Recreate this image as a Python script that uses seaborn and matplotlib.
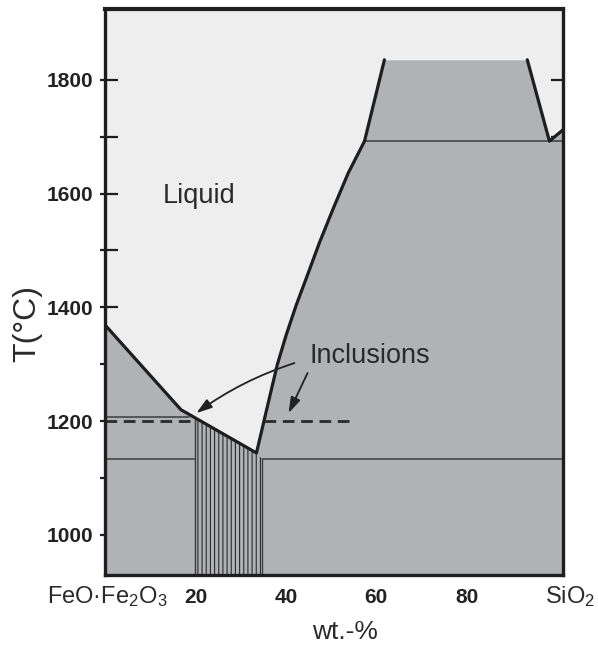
import numpy as np
import pandas as pd
import matplotlib
matplotlib.use("Agg")
import matplotlib.pyplot as plt
import seaborn as sns

# --- FeO·Fe2O3 – SiO2 phase diagram (wt.-% SiO2 vs temperature) ---

# Liquidus / upper boundary of the solid and two-liquid fields
liq_x = [0.0, 16.8, 33.5, 34.8, 36.4, 38.1, 40.1, 42.3, 44.8, 47.4, 50.5, 53.8,
         57.4, 61.8, 93.4, 98.3, 101.3]
liq_t = [1369, 1220, 1144, 1188, 1242, 1299, 1352, 1404, 1457, 1513, 1574, 1636,
         1692, 1835, 1835, 1692, 1712]

# Invariant (horizontal) lines: temperature, x-start, x-end
magnetite_t, magnetite_x = 1207, [0.0, 18.5]
eutectic_t = 1133
eutectic_left_x = [0.0, 19.9]
eutectic_right_x = [34.8, 101.3]
monotectic_t, monotectic_x = 1692, [57.4, 101.3]

# Composition range of the inclusions (hatched field)
incl_x = [19.9, 33.5, 34.8]
incl_top = [1206, 1144, 1133]

# Working temperature (dashed)
work_t = 1200
work_left_x = [0.0, 19.9]
work_right_x = [35.2, 54.7]

# Axis ticks
x_ticks = [20, 40, 60, 80]
x_tick_labels = ["20", "40", "60", "80"]
y_major = [1000, 1200, 1400, 1600, 1800]
y_minor = [1100, 1300, 1500, 1700]
x_range = (0.0, 101.3)
t_range = (929.5, 1924.3)

GRAY = "#b1b2b5"
LIGHT = "#eeeeee"
INK = "#1e1e1e"

sns.set_theme(style="white")
plt.rcParams["font.family"] = ["Liberation Sans", "DejaVu Sans"]
plt.rcParams["mathtext.fontset"] = "custom"
plt.rcParams["mathtext.rm"] = "Liberation Sans"
plt.rcParams["mathtext.it"] = "Liberation Sans:italic"
plt.rcParams["mathtext.bf"] = "Liberation Sans:bold"
plt.rcParams["hatch.linewidth"] = 0.8

fig = plt.figure(figsize=(5.98, 6.47), dpi=100)
ax = fig.add_axes([105 / 598, 72 / 647, 458 / 598, 566 / 647])
ax.set_facecolor(LIGHT)
ax.set_xlim(*x_range)
ax.set_ylim(*t_range)

# Solid + two-liquid fields
ax.fill_between(liq_x, t_range[0], liq_t, color=GRAY, lw=0, zorder=1)

# Hatched inclusion composition range
ax.fill_between(incl_x, t_range[0], incl_top, facecolor="none",
                edgecolor="#2a2a2a", hatch="||||", lw=0, zorder=2)
ax.vlines([incl_x[0]], t_range[0], incl_top[0], color="#3a3a3a", lw=1.0, zorder=3)
ax.vlines([incl_x[-1]], t_range[0], incl_top[-1], color="#3a3a3a", lw=1.0, zorder=3)

# Thin invariant lines
thin = dict(color="#3c3c3c", lw=1.1, zorder=3)
ax.plot(magnetite_x, [magnetite_t] * 2, **thin)
ax.plot(eutectic_left_x, [eutectic_t] * 2, **thin)
ax.plot(eutectic_right_x, [eutectic_t] * 2, **thin)
ax.plot(monotectic_x, [monotectic_t] * 2, **thin)

# Liquidus curves (thick); the top of the two-liquid dome is open
liq = pd.DataFrame({"x": liq_x, "t": liq_t})
seg_a = liq.iloc[:14]
seg_b = liq.iloc[14:]
for seg in (seg_a, seg_b):
    sns.lineplot(data=seg, x="x", y="t", sort=False, estimator=None,
                 color=INK, lw=2.3, ax=ax, zorder=4)

# Dashed working temperature
dash = dict(color="#2a2a2a", lw=2.0, dashes=(4.2, 2.4), zorder=5)
ax.plot(work_left_x, [work_t] * 2, **dash)
ax.plot(work_right_x, [work_t] * 2, **dash)

# Labels inside the diagram
ax.text(12.7, 1583, "Liquid", fontsize=19.5, color="#2a2a2a",
        ha="left", va="baseline", zorder=6)
ax.text(45.2, 1302, "Inclusions", fontsize=19.5, color="#2a2a2a",
        ha="left", va="baseline", zorder=6)
arrow = dict(arrowstyle="-|>,head_length=0.5,head_width=0.16", color="#222222",
             lw=1.3, shrinkA=0, shrinkB=0, mutation_scale=19)
ax.annotate("", xy=(20.2, 1214), xytext=(41.9, 1302),
            arrowprops=dict(arrow, connectionstyle="arc3,rad=0.08"), zorder=6)
ax.annotate("", xy=(40.6, 1214), xytext=(44.8, 1284.5),
            arrowprops=dict(arrow, connectionstyle="arc3,rad=0"), zorder=6)

# Axes styling
for side in ("left", "right", "top", "bottom"):
    ax.spines[side].set_visible(True)
    ax.spines[side].set_color(INK)
    ax.spines[side].set_linewidth(2.4)
    ax.spines[side].set_zorder(7)
ax.spines["top"].set_linewidth(3.0)

ax.set_yticks(y_major)
ax.set_yticks(y_minor, minor=True)
ax.set_yticklabels([str(v) for v in y_major], fontsize=15, fontweight="bold",
                   color="#222222")
ax.tick_params(axis="y", which="both", left=True, right=True, direction="in",
               length=9, width=1.6, color=INK, pad=8.5)
ax.set_xticks(x_ticks)
ax.set_xticklabels(x_tick_labels, fontsize=15, fontweight="bold", color="#222222")
ax.tick_params(axis="x", which="both", length=0, pad=9.5)

# Short outward nubs on the left temperature axis
nub = ax.secondary_yaxis("left")
nub.set_yticks(y_major + y_minor)
nub.set_yticklabels([])
nub.tick_params(direction="out", length=3.6, width=1.6, color=INK)
nub.spines["left"].set_visible(False)

# End-member names
xt = ax.get_xaxis_transform()
ax.text(0.6, -0.0495, r"FeO·Fe$_2$O$_3$", transform=xt, fontsize=17,
        ha="center", va="baseline", color="#2a2a2a", clip_on=False)
ax.text(102.9, -0.0495, r"SiO$_2$", transform=xt, fontsize=17,
        ha="center", va="baseline", color="#2a2a2a", clip_on=False)

ax.set_xlabel("wt.-%", fontsize=19, color="#2a2a2a")
ax.xaxis.set_label_coords((346 - 105.7) / 458, -0.080)
ax.set_ylabel("T(°C)", fontsize=23, color="#2a2a2a", va="center")
ax.yaxis.set_label_coords(-0.170, 0.445)

fig.patch.set_facecolor("white")
fig.savefig("out.png", dpi=100, facecolor="white")
